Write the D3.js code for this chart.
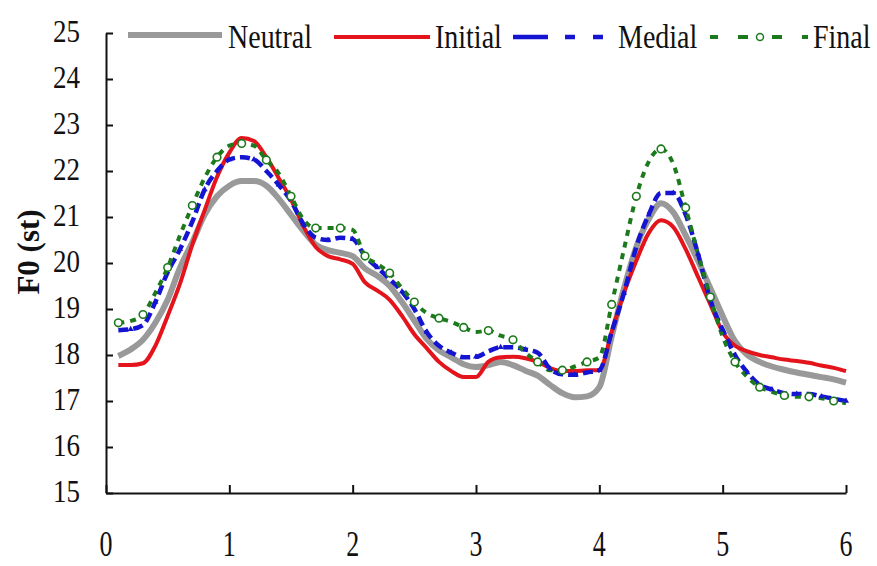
<!DOCTYPE html>
<html><head><meta charset="utf-8">
<script src="https://cdn.jsdelivr.net/npm/d3@7"></script>
<style>body{margin:0;background:#fff}svg{display:block}text{font-family:"Liberation Serif","Times New Roman",serif}</style>
</head><body>
<svg id="c" width="877" height="566"></svg>
<script>
const times = [0.1,0.2,0.3,0.4,0.5,0.6,0.7,0.8,0.9,1.0,1.1,1.2,1.3,1.4,1.5,1.6,1.7,1.8,1.9,2.0,2.1,2.2,2.3,2.4,2.5,2.6,2.7,2.8,2.9,3.0,3.1,3.2,3.3,3.4,3.5,3.6,3.7,3.8,3.9,4.0,4.1,4.2,4.3,4.4,4.5,4.6,4.7,4.8,4.9,5.0,5.1,5.2,5.3,5.4,5.5,5.6,5.7,5.8,5.9,6.0];
const neutral = [17.98,18.12,18.33,18.7,19.2,19.9,20.45,21.05,21.45,21.68,21.78,21.78,21.68,21.4,21.05,20.7,20.4,20.28,20.22,20.15,19.88,19.72,19.5,19.15,18.75,18.35,18.1,17.95,17.8,17.74,17.78,17.85,17.78,17.66,17.55,17.35,17.17,17.08,17.1,17.3,18.4,19.45,20.35,20.95,21.3,21.1,20.6,20.05,19.45,18.85,18.3,18.0,17.85,17.75,17.68,17.62,17.57,17.52,17.47,17.4];
const initial = [17.78,17.78,17.82,18.2,18.85,19.55,20.4,21.15,21.87,22.4,22.72,22.65,22.3,21.85,21.38,20.8,20.35,20.15,20.08,19.98,19.58,19.4,19.2,18.85,18.45,18.15,17.85,17.65,17.52,17.52,17.85,17.95,17.96,17.93,17.85,17.72,17.65,17.65,17.67,17.67,18.5,19.35,20.05,20.65,20.93,20.78,20.3,19.7,19.1,18.5,18.2,18.08,18.0,17.95,17.9,17.87,17.83,17.77,17.72,17.65];
const medial = [18.54,18.56,18.65,19.15,19.8,20.3,20.9,21.6,22.0,22.25,22.3,22.25,22.0,21.7,21.35,20.85,20.55,20.5,20.55,20.52,20.15,19.9,19.65,19.38,19.0,18.5,18.2,18.05,17.95,17.96,18.08,18.17,18.17,18.12,18.05,17.7,17.58,17.57,17.62,17.67,18.5,19.35,20.35,21.05,21.52,21.52,21.05,20.2,19.2,18.55,18.0,17.62,17.35,17.25,17.17,17.15,17.15,17.1,17.05,17.0];
const finalS = [18.7,18.74,18.88,19.35,19.9,20.6,21.25,21.85,22.3,22.55,22.6,22.55,22.24,21.95,21.45,20.95,20.76,20.76,20.76,20.72,20.15,19.98,19.78,19.45,19.15,18.91,18.8,18.72,18.6,18.5,18.53,18.42,18.33,18.05,17.85,17.67,17.67,17.75,17.85,17.95,19.1,20.3,21.45,22.2,22.48,22.15,21.2,20.2,19.26,18.4,17.85,17.52,17.3,17.2,17.12,17.09,17.09,17.06,17.0,16.95];
const seriesNames = ["Neutral","Initial","Medial","Final"];
const xTicks = [0,1,2,3,4,5,6];
const yTicks = [15,16,17,18,19,20,21,22,23,24,25];
const yLabel = "F0 (st)";

const svg = d3.select("#c");
const x = d3.scaleLinear().domain([0,6]).range([106,846]);
const y = d3.scaleLinear().domain([15,25]).range([493,33]);

// axes
const yAxis = svg.append("g").attr("transform","translate(106,0)")
  .call(d3.axisRight(y).tickValues(yTicks).tickSize(7).tickSizeOuter(0).tickFormat(""));
yAxis.selectAll("path,line").attr("stroke","#111").attr("stroke-width",2);
const xAxis = svg.append("g").attr("transform","translate(0,493)")
  .call(d3.axisTop(x).tickValues(xTicks).tickSize(8).tickSizeOuter(0).tickFormat(""));
xAxis.selectAll("path,line").attr("stroke","#111").attr("stroke-width",2);

svg.append("g").selectAll("text").data(yTicks).join("text")
  .attr("transform",d=>`translate(80,${y(d)+9}) scale(1,1.15)`)
  .attr("text-anchor","end").attr("font-size",27).attr("fill","#111").text(d=>d);
svg.append("g").selectAll("text").data(xTicks).join("text")
  .attr("transform",d=>`translate(${x(d)},556) scale(1,1.35)`)
  .attr("text-anchor","middle").attr("font-size",26).attr("fill","#111").text(d=>d);
svg.append("text").attr("transform","translate(39,252) rotate(-90)")
  .attr("text-anchor","middle").attr("font-size",31).attr("font-weight","bold").attr("fill","#111").text(yLabel);

const line = d3.line().x((d,i)=>x(times[i])).y(d=>y(d)).curve(d3.curveMonotoneX);
const styles = [
  {data:neutral, color:"#999999", w:6, dash:null},
  {data:initial, color:"#e3141b", w:4, dash:null},
  {data:medial, color:"#1414d2", w:4.5, dash:"10,5"},
  {data:finalS, color:"#1c7a1c", w:4, dash:"6,6"}
];
styles.forEach(s=>{
  svg.append("path").attr("d",line(s.data)).attr("fill","none")
    .attr("stroke",s.color).attr("stroke-width",s.w)
    .attr("stroke-dasharray",s.dash);
});
// medial markers (small triangles)
svg.append("g").selectAll("path").data(medial.filter((d,i)=>i%2===1)).join("path")
  .attr("d",d3.symbol(d3.symbolTriangle,16))
  .attr("transform",(d,k)=>`translate(${x(times[k*2+1])},${y(d)})`)
  .attr("fill","#1414d2");
// final markers (open circles)
svg.append("g").selectAll("circle").data(finalS.filter((d,i)=>i%2===0)).join("circle")
  .attr("cx",(d,k)=>x(times[k*2])).attr("cy",d=>y(d)).attr("r",3.8)
  .attr("fill","#fff").attr("stroke","#1c7a1c").attr("stroke-width",1.6);

// legend
const lg = svg.append("g");
lg.append("line").attr("x1",128).attr("x2",222).attr("y1",35).attr("y2",35).attr("stroke","#999").attr("stroke-width",6);
lg.append("line").attr("x1",334).attr("x2",430).attr("y1",37).attr("y2",37).attr("stroke","#e3141b").attr("stroke-width",4);
lg.append("line").attr("x1",513).attr("x2",603).attr("y1",37).attr("y2",37).attr("stroke","#1414d2").attr("stroke-width",4.5).attr("stroke-dasharray","35,17,10,18,10");
lg.append("line").attr("x1",710).attr("x2",808).attr("y1",37).attr("y2",37).attr("stroke","#1c7a1c").attr("stroke-width",4).attr("stroke-dasharray","8,20,10,24,10,20,8");
lg.append("circle").attr("cx",760).attr("cy",37).attr("r",3.5).attr("fill","#fff").attr("stroke","#1c7a1c").attr("stroke-width",1.5);
const lx = [228,435,618,813];
lg.selectAll("text").data(seriesNames).join("text")
  .attr("transform",(d,i)=>`translate(${lx[i]},48) scale(1,1.2)`)
  .attr("font-size",28).attr("fill","#111").text(d=>d);
</script>
</body></html>
